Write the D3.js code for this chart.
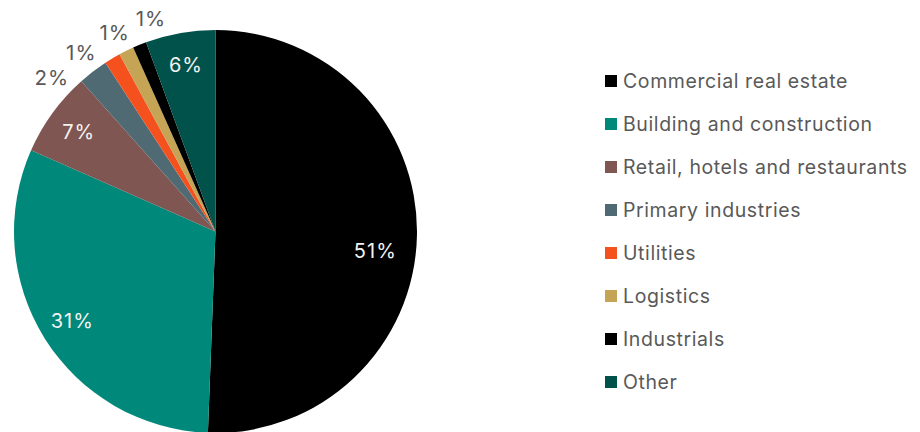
<!DOCTYPE html>
<html>
<head>
<meta charset="utf-8">
<script src="https://cdn.jsdelivr.net/npm/d3@7"></script>
<style>
  html, body { margin: 0; padding: 0; background: #ffffff; }
  svg { display: block; font-family: Inter, Roboto, "Noto Sans", sans-serif; }
</style>
</head>
<body>
<svg id="chart" width="920" height="432"></svg>
<script>
// Sector shares of the loan book (percent)
const categories = [
  "Commercial real estate",
  "Building and construction",
  "Retail, hotels and restaurants",
  "Primary industries",
  "Utilities",
  "Logistics",
  "Industrials",
  "Other"
];
const shares = [50.6, 31.0, 6.8, 2.4, 1.3, 1.2, 1.1, 5.6];
const colors = ["#000000", "#00897a", "#7f5651", "#506a74", "#f4511e", "#c5a456", "#000000", "#00524a"];

const svg = d3.select("#chart");
const cx = 215.5, cy = 231.5, radius = 201.5;

const data = categories.map((c, i) => ({ name: c, value: shares[i], color: colors[i] }));

const pie = d3.pie().value(d => d.value).sort(null);
const arcs = pie(data);
const arc = d3.arc().innerRadius(0).outerRadius(radius);

const g = svg.append("g").attr("transform", `translate(${cx},${cy})`);

g.selectAll("path.slice")
  .data(arcs)
  .join("path")
  .attr("class", "slice")
  .attr("d", arc)
  .attr("fill", d => d.data.color);

const fmt = d => d3.format(".0f")(d) + "%";

// Large slices: label inside; the half-pie slice label sits a little lower and inward
const inner = arcs.filter(d => d.data.value >= 5);
const labelArc = d3.arc().innerRadius(169).outerRadius(169);
function insidePos(d) {
  if (d.data.value > 50) {
    const a = (d.startAngle + d.endAngle) / 2 + 5.8 * Math.PI / 180;
    return [161 * Math.sin(a), -161 * Math.cos(a)];
  }
  return labelArc.centroid(d);
}
g.selectAll("text.inside")
  .data(inner)
  .join("text")
  .attr("class", "inside")
  .attr("x", d => insidePos(d)[0])
  .attr("y", d => insidePos(d)[1])
  .attr("text-anchor", "middle")
  .attr("dominant-baseline", "central")
  .attr("font-size", 20)
  .attr("letter-spacing", 1)
  .attr("fill", "#f2f2f2")
  .text(d => fmt(d.data.value));

// Small slices: label outside, angles spread apart so they do not collide
const outer = arcs.filter(d => d.data.value < 5)
  .map(d => ({ d, a: (d.startAngle + d.endAngle) / 2 }));
const gap = 9.8 * Math.PI / 180;
const meanA = d3.mean(outer, o => o.a);
const n = outer.length;
outer.forEach((o, i) => { o.a = meanA - 2 * Math.PI / 180 + (i - (n - 1) / 2) * gap; });
g.selectAll("text.outside")
  .data(outer)
  .join("text")
  .attr("class", "outside")
  .attr("x", o => 228 * Math.sin(o.a))
  .attr("y", o => -224 * Math.cos(o.a) + 2)
  .attr("text-anchor", "middle")
  .attr("dominant-baseline", "central")
  .attr("font-size", 20.5)
  .attr("letter-spacing", 1)
  .attr("fill", "#595959")
  .text(o => fmt(o.d.data.value));

// Legend
const legend = svg.append("g").attr("transform", "translate(605,81)");
const rowH = 43;
const rows = legend.selectAll("g.row")
  .data(data)
  .join("g")
  .attr("class", "row")
  .attr("transform", (d, i) => `translate(0,${i * rowH})`);
rows.append("rect")
  .attr("x", 0).attr("y", -6)
  .attr("width", 12).attr("height", 12)
  .attr("fill", d => d.color);
rows.append("text")
  .attr("x", 18).attr("y", 0)
  .attr("dominant-baseline", "central")
  .attr("font-size", 19.5)
  .attr("letter-spacing", 0.6)
  .attr("fill", "#595959")
  .text(d => d.name);
</script>
</body>
</html>
